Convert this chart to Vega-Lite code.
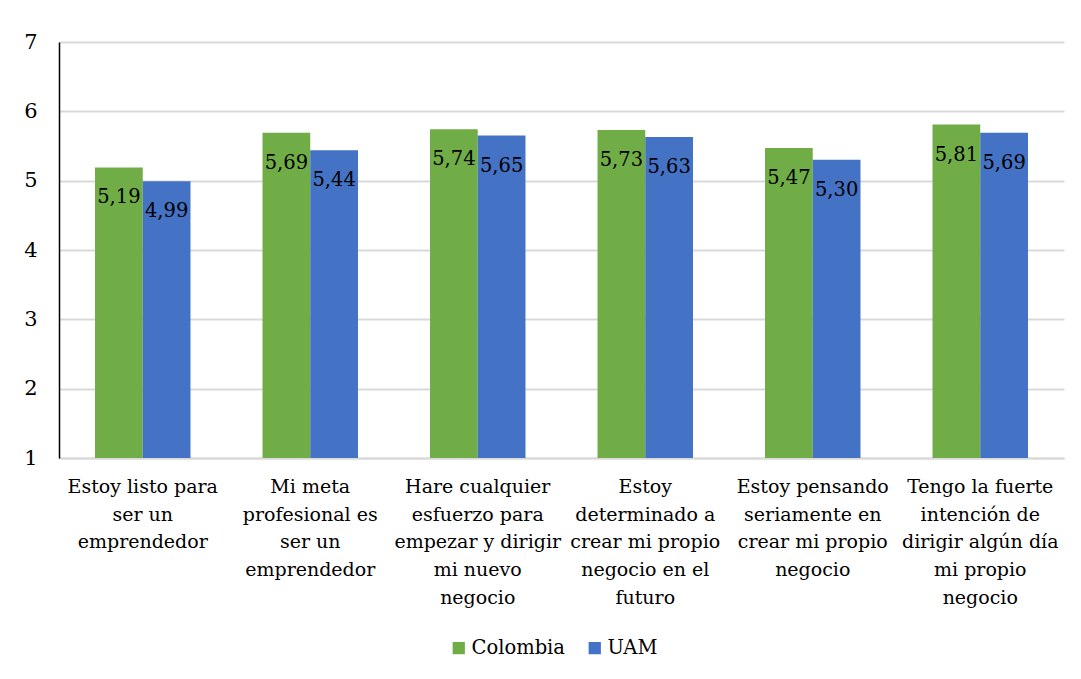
{
  "$schema": "https://vega.github.io/schema/vega-lite/v6.json",
  "width": 1005,
  "height": 416,
  "autosize": {"type": "none"},
  "padding": {"left": 59, "top": 42, "right": 17, "bottom": 221},
  "background": "white",
  "config": {
    "font": "DejaVu Serif",
    "view": {"stroke": null},
    "axis": {"labelFont": "DejaVu Serif"},
    "legend": {"labelFont": "DejaVu Serif"},
    "text": {"font": "DejaVu Serif"},
    "locale": {"number": {"decimal": ",", "thousands": ".", "grouping": [3], "currency": ["", " €"]}}
  },
  "data": {
    "values": [
      {"pregunta": "Estoy listo para|ser un|emprendedor", "grupo": "Colombia", "valor": 5.19},
      {"pregunta": "Estoy listo para|ser un|emprendedor", "grupo": "UAM", "valor": 4.99},
      {"pregunta": "Mi meta|profesional es|ser un|emprendedor", "grupo": "Colombia", "valor": 5.69},
      {"pregunta": "Mi meta|profesional es|ser un|emprendedor", "grupo": "UAM", "valor": 5.44},
      {"pregunta": "Hare cualquier|esfuerzo para|empezar y dirigir|mi nuevo|negocio", "grupo": "Colombia", "valor": 5.74},
      {"pregunta": "Hare cualquier|esfuerzo para|empezar y dirigir|mi nuevo|negocio", "grupo": "UAM", "valor": 5.65},
      {"pregunta": "Estoy|determinado a|crear mi propio|negocio en el|futuro", "grupo": "Colombia", "valor": 5.73},
      {"pregunta": "Estoy|determinado a|crear mi propio|negocio en el|futuro", "grupo": "UAM", "valor": 5.63},
      {"pregunta": "Estoy pensando|seriamente en|crear mi propio|negocio", "grupo": "Colombia", "valor": 5.47},
      {"pregunta": "Estoy pensando|seriamente en|crear mi propio|negocio", "grupo": "UAM", "valor": 5.30},
      {"pregunta": "Tengo la fuerte|intención de|dirigir algún día|mi propio|negocio", "grupo": "Colombia", "valor": 5.81},
      {"pregunta": "Tengo la fuerte|intención de|dirigir algún día|mi propio|negocio", "grupo": "UAM", "valor": 5.69}
    ]
  },
  "encoding": {
    "x": {
      "field": "pregunta",
      "type": "nominal",
      "sort": null,
      "scale": {"paddingInner": 0.43, "paddingOuter": 0.215},
      "axis": {
        "title": null,
        "labels": false,
        "ticks": false,
        "domainColor": "#d9d9d9",
        "domainWidth": 2
      }
    },
    "y": {
      "field": "valor",
      "type": "quantitative",
      "scale": {"domain": [1, 7], "zero": false, "nice": false},
      "axis": {
        "title": null,
        "values": [1, 2, 3, 4, 5, 6, 7],
        "format": "d",
        "labelFontSize": 21,
        "labelColor": "#000000",
        "labelPadding": 22,
        "ticks": false,
        "domainColor": "#000000",
        "domainWidth": 1.5,
        "gridColor": "#d9d9d9",
        "gridWidth": 2
      }
    }
  },
  "layer": [
    {
      "mark": {"type": "bar"},
      "encoding": {
        "xOffset": {"field": "grupo", "type": "nominal", "sort": ["Colombia", "UAM"]},
        "y2": {"datum": 1},
        "color": {
          "field": "grupo",
          "type": "nominal",
          "sort": ["Colombia", "UAM"],
          "scale": {"domain": ["Colombia", "UAM"], "range": ["#70AD47", "#4472C4"]},
          "legend": {
            "title": null,
            "orient": "none",
            "direction": "horizontal",
            "legendX": 390,
            "legendY": 596,
            "symbolType": "square",
            "symbolSize": 150,
            "symbolStrokeWidth": 0,
            "labelFontSize": 19.5,
            "labelColor": "#000000",
            "labelOffset": 3,
            "columnPadding": 20
          }
        }
      }
    },
    {
      "mark": {"type": "text", "baseline": "middle", "dy": 30, "fontSize": 19.5, "color": "#000000"},
      "encoding": {
        "xOffset": {"field": "grupo", "type": "nominal", "sort": ["Colombia", "UAM"]},
        "text": {"field": "valor", "type": "quantitative", "format": ".2f"}
      }
    },
    {
      "transform": [{"filter": "datum.grupo === 'Colombia'"}],
      "mark": {"type": "text", "baseline": "top", "align": "center", "dy": 20, "fontSize": 19, "lineHeight": 27.7, "lineBreak": "|", "color": "#000000"},
      "encoding": {
        "y": {"datum": 1},
        "text": {"field": "pregunta", "type": "nominal"}
      }
    }
  ]
}
